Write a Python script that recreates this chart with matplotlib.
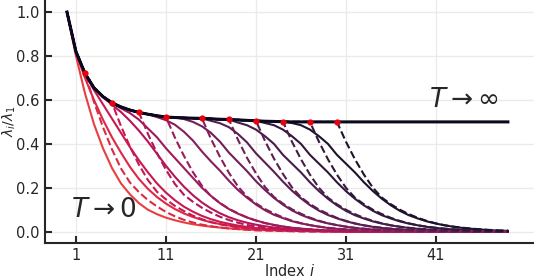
import numpy as np
import matplotlib.pyplot as plt
import seaborn as sns

# T -> infinity limit (black) and T -> 0 limit (red)
top = [1.000, 0.820, 0.721, 0.655, 0.615, 0.587, 0.568, 0.554, 0.543, 0.535,
       0.528, 0.522, 0.520, 0.518, 0.517, 0.516, 0.514, 0.512, 0.511, 0.509,
       0.507, 0.505, 0.503, 0.502, 0.501, 0.500, 0.500, 0.500, 0.500, 0.500,
       0.500, 0.500, 0.500, 0.500, 0.500, 0.500, 0.500, 0.500, 0.500, 0.500,
       0.500, 0.500, 0.500, 0.500, 0.500, 0.500, 0.500, 0.500, 0.500, 0.500]

s0 = [1.0, 0.80, 0.63, 0.49, 0.38, 0.29, 0.22, 0.17, 0.13, 0.10,
      0.08, 0.064, 0.052, 0.042, 0.034, 0.028, 0.023, 0.019, 0.015, 0.012,
      0.010, 0.008, 0.007, 0.006, 0.005, 0.004, 0.003, 0.003, 0.002, 0.002,
      0.002, 0.001, 0.001, 0.001, 0.001, 0.001, 0.001, 0.001, 0.001, 0.001,
      0.001, 0.001, 0.001, 0.001, 0.001, 0.001, 0.001, 0.001, 0.001, 0.001]

# solid curves, one per intermediate temperature
s1 = [1.0, 0.815, 0.70, 0.60, 0.51, 0.43, 0.36, 0.295, 0.24, 0.195,
      0.158, 0.128, 0.103, 0.083, 0.067, 0.054, 0.043, 0.035, 0.028, 0.022,
      0.018, 0.014, 0.011, 0.009, 0.007, 0.005, 0.004, 0.003, 0.003, 0.002,
      0.002, 0.001, 0.001, 0.001, 0.001, 0.001, 0.001, 0.001, 0.001, 0.001,
      0.001, 0.001, 0.001, 0.001, 0.001, 0.001, 0.001, 0.001, 0.001, 0.001]
s2 = [1.0, 0.82, 0.718, 0.645, 0.58, 0.515, 0.45, 0.385, 0.325, 0.27,
      0.22, 0.178, 0.143, 0.114, 0.091, 0.072, 0.057, 0.045, 0.036, 0.028,
      0.022, 0.017, 0.013, 0.010, 0.008, 0.006, 0.005, 0.004, 0.003, 0.002,
      0.002, 0.001, 0.001, 0.001, 0.001, 0.001, 0.001, 0.001, 0.001, 0.001,
      0.001, 0.001, 0.001, 0.001, 0.001, 0.001, 0.001, 0.001, 0.001, 0.001]
s3 = [1.0, 0.820, 0.721, 0.655, 0.612, 0.578, 0.545, 0.505, 0.46, 0.41,
      0.355, 0.30, 0.25, 0.205, 0.166, 0.133, 0.106, 0.084, 0.066, 0.052,
      0.041, 0.032, 0.025, 0.019, 0.015, 0.011, 0.008, 0.006, 0.005, 0.004,
      0.003, 0.002, 0.002, 0.001, 0.001, 0.001, 0.001, 0.001, 0.001, 0.001,
      0.001, 0.001, 0.001, 0.001, 0.001, 0.001, 0.001, 0.001, 0.001, 0.001]
s4 = [1.0, 0.820, 0.721, 0.655, 0.615, 0.587, 0.562, 0.54, 0.51, 0.47,
      0.43, 0.38, 0.335, 0.29, 0.245, 0.20, 0.163, 0.13, 0.103, 0.082,
      0.065, 0.051, 0.04, 0.031, 0.024, 0.018, 0.014, 0.011, 0.008, 0.006,
      0.004, 0.003, 0.002, 0.001, 0.001, 0.001, 0.001, 0.001, 0.001, 0.001,
      0.001, 0.001, 0.001, 0.001, 0.001, 0.001, 0.001, 0.001, 0.001, 0.001]
s5 = [1.0, 0.820, 0.721, 0.655, 0.615, 0.587, 0.568, 0.554, 0.543, 0.535,
      0.522, 0.508, 0.487, 0.455, 0.415, 0.365, 0.32, 0.278, 0.232, 0.19,
      0.155, 0.124, 0.098, 0.077, 0.062, 0.048, 0.038, 0.030, 0.023, 0.017,
      0.013, 0.010, 0.007, 0.005, 0.004, 0.003, 0.002, 0.002, 0.001, 0.001,
      0.001, 0.001, 0.001, 0.001, 0.001, 0.001, 0.001, 0.001, 0.001, 0.001]
s6 = [1.0, 0.820, 0.721, 0.655, 0.615, 0.587, 0.568, 0.554, 0.543, 0.535,
      0.528, 0.522, 0.520, 0.513, 0.50, 0.48, 0.45, 0.41, 0.36, 0.318,
      0.276, 0.23, 0.19, 0.154, 0.123, 0.097, 0.077, 0.061, 0.048, 0.038,
      0.030, 0.023, 0.017, 0.013, 0.010, 0.007, 0.005, 0.004, 0.003, 0.002,
      0.002, 0.001, 0.001, 0.001, 0.001, 0.001, 0.001, 0.001, 0.001, 0.001]
s7 = [1.0, 0.820, 0.721, 0.655, 0.615, 0.587, 0.568, 0.554, 0.543, 0.535,
      0.528, 0.522, 0.520, 0.518, 0.517, 0.516, 0.505, 0.494, 0.476, 0.445,
      0.407, 0.357, 0.315, 0.273, 0.228, 0.187, 0.152, 0.121, 0.096, 0.076,
      0.061, 0.048, 0.037, 0.029, 0.022, 0.017, 0.013, 0.010, 0.007, 0.005,
      0.004, 0.003, 0.002, 0.002, 0.001, 0.001, 0.001, 0.001, 0.001, 0.001]
s8 = [1.0, 0.820, 0.721, 0.655, 0.615, 0.587, 0.568, 0.554, 0.543, 0.535,
      0.528, 0.522, 0.520, 0.518, 0.517, 0.516, 0.514, 0.512, 0.511, 0.497,
      0.485, 0.465, 0.435, 0.40, 0.35, 0.31, 0.27, 0.225, 0.185, 0.15,
      0.12, 0.095, 0.075, 0.06, 0.047, 0.037, 0.029, 0.022, 0.017, 0.013,
      0.010, 0.007, 0.005, 0.004, 0.003, 0.002, 0.002, 0.001, 0.001, 0.001]
s9 = [1.0, 0.820, 0.721, 0.655, 0.615, 0.587, 0.568, 0.554, 0.543, 0.535,
      0.528, 0.522, 0.520, 0.518, 0.517, 0.516, 0.514, 0.512, 0.511, 0.509,
      0.507, 0.505, 0.495, 0.485, 0.465, 0.435, 0.40, 0.35, 0.31, 0.27,
      0.225, 0.185, 0.15, 0.12, 0.095, 0.075, 0.06, 0.047, 0.037, 0.029,
      0.022, 0.017, 0.013, 0.010, 0.007, 0.005, 0.004, 0.003, 0.002, 0.002]
s10 = [1.0, 0.820, 0.721, 0.655, 0.615, 0.587, 0.568, 0.554, 0.543, 0.535,
       0.528, 0.522, 0.520, 0.518, 0.517, 0.516, 0.514, 0.512, 0.511, 0.509,
       0.507, 0.505, 0.503, 0.502, 0.501, 0.495, 0.485, 0.465, 0.435, 0.40,
       0.35, 0.31, 0.27, 0.225, 0.185, 0.15, 0.12, 0.095, 0.075, 0.06,
       0.047, 0.037, 0.029, 0.022, 0.017, 0.013, 0.010, 0.007, 0.005, 0.004]

# dashed curves, leaving the top curve at the red dots
d2 = [1.0, 0.820, 0.721, 0.591, 0.476, 0.375, 0.288, 0.224, 0.180, 0.144,
      0.115, 0.090, 0.070, 0.054, 0.042, 0.032, 0.025, 0.019, 0.015, 0.012,
      0.009, 0.006, 0.005, 0.004, 0.003, 0.002, 0.001, 0.001, 0.001, 0.001,
      0.001, 0.001, 0.001, 0.001, 0.001, 0.001, 0.001, 0.001, 0.001, 0.001,
      0.001, 0.001, 0.001, 0.001, 0.001, 0.001, 0.001, 0.001, 0.001, 0.001]
d5 = [1.0, 0.820, 0.721, 0.655, 0.615, 0.587, 0.481, 0.387, 0.305, 0.235,
      0.182, 0.147, 0.117, 0.094, 0.073, 0.057, 0.044, 0.034, 0.026, 0.021,
      0.016, 0.012, 0.009, 0.007, 0.005, 0.004, 0.003, 0.002, 0.002, 0.001,
      0.001, 0.001, 0.001, 0.001, 0.001, 0.001, 0.001, 0.001, 0.001, 0.001,
      0.001, 0.001, 0.001, 0.001, 0.001, 0.001, 0.001, 0.001, 0.001, 0.001]
d8 = [1.0, 0.820, 0.721, 0.655, 0.615, 0.587, 0.568, 0.554, 0.543, 0.445,
      0.358, 0.282, 0.217, 0.168, 0.136, 0.109, 0.087, 0.068, 0.053, 0.041,
      0.031, 0.024, 0.019, 0.015, 0.011, 0.009, 0.007, 0.005, 0.004, 0.003,
      0.002, 0.002, 0.001, 0.001, 0.001, 0.001, 0.001, 0.001, 0.001, 0.001,
      0.001, 0.001, 0.001, 0.001, 0.001, 0.001, 0.001, 0.001, 0.001, 0.001]
d11 = [1.0, 0.820, 0.721, 0.655, 0.615, 0.587, 0.568, 0.554, 0.543, 0.535,
       0.528, 0.522, 0.428, 0.345, 0.271, 0.209, 0.162, 0.131, 0.104, 0.084,
       0.065, 0.051, 0.039, 0.030, 0.023, 0.018, 0.014, 0.011, 0.008, 0.006,
       0.005, 0.004, 0.003, 0.002, 0.002, 0.001, 0.001, 0.001, 0.001, 0.001,
       0.001, 0.001, 0.001, 0.001, 0.001, 0.001, 0.001, 0.001, 0.001, 0.001]
d15 = [1.0, 0.820, 0.721, 0.655, 0.615, 0.587, 0.568, 0.554, 0.543, 0.535,
       0.528, 0.522, 0.520, 0.518, 0.517, 0.516, 0.423, 0.341, 0.268, 0.206,
       0.160, 0.129, 0.103, 0.083, 0.065, 0.050, 0.039, 0.030, 0.023, 0.018,
       0.014, 0.011, 0.008, 0.006, 0.005, 0.004, 0.003, 0.002, 0.002, 0.001,
       0.001, 0.001, 0.001, 0.001, 0.001, 0.001, 0.001, 0.001, 0.001, 0.001]
d18 = [1.0, 0.820, 0.721, 0.655, 0.615, 0.587, 0.568, 0.554, 0.543, 0.535,
       0.528, 0.522, 0.520, 0.518, 0.517, 0.516, 0.514, 0.512, 0.511, 0.419,
       0.337, 0.266, 0.204, 0.158, 0.128, 0.102, 0.082, 0.064, 0.050, 0.038,
       0.030, 0.023, 0.018, 0.014, 0.011, 0.008, 0.006, 0.005, 0.004, 0.003,
       0.002, 0.002, 0.001, 0.001, 0.001, 0.001, 0.001, 0.001, 0.001, 0.001]
d21 = [1.0, 0.820, 0.721, 0.655, 0.615, 0.587, 0.568, 0.554, 0.543, 0.535,
       0.528, 0.522, 0.520, 0.518, 0.517, 0.516, 0.514, 0.512, 0.511, 0.509,
       0.507, 0.505, 0.414, 0.333, 0.263, 0.202, 0.157, 0.126, 0.101, 0.081,
       0.063, 0.049, 0.038, 0.029, 0.023, 0.018, 0.014, 0.011, 0.008, 0.006,
       0.005, 0.004, 0.003, 0.002, 0.002, 0.001, 0.001, 0.001, 0.001, 0.001]
d24 = [1.0, 0.820, 0.721, 0.655, 0.615, 0.587, 0.568, 0.554, 0.543, 0.535,
       0.528, 0.522, 0.520, 0.518, 0.517, 0.516, 0.514, 0.512, 0.511, 0.509,
       0.507, 0.505, 0.503, 0.502, 0.501, 0.41, 0.33, 0.26, 0.20, 0.155,
       0.125, 0.10, 0.08, 0.063, 0.049, 0.038, 0.029, 0.023, 0.018, 0.014,
       0.011, 0.008, 0.006, 0.005, 0.004, 0.003, 0.002, 0.002, 0.001, 0.001]
d27 = [1.0, 0.820, 0.721, 0.655, 0.615, 0.587, 0.568, 0.554, 0.543, 0.535,
       0.528, 0.522, 0.520, 0.518, 0.517, 0.516, 0.514, 0.512, 0.511, 0.509,
       0.507, 0.505, 0.503, 0.502, 0.501, 0.500, 0.500, 0.500, 0.41, 0.33,
       0.26, 0.20, 0.155, 0.125, 0.10, 0.08, 0.063, 0.049, 0.038, 0.029,
       0.023, 0.018, 0.014, 0.011, 0.008, 0.006, 0.005, 0.004, 0.003, 0.002]
d30 = [1.0, 0.820, 0.721, 0.655, 0.615, 0.587, 0.568, 0.554, 0.543, 0.535,
       0.528, 0.522, 0.520, 0.518, 0.517, 0.516, 0.514, 0.512, 0.511, 0.509,
       0.507, 0.505, 0.503, 0.502, 0.501, 0.500, 0.500, 0.500, 0.500, 0.500,
       0.500, 0.41, 0.33, 0.26, 0.20, 0.155, 0.125, 0.10, 0.08, 0.063,
       0.049, 0.038, 0.029, 0.023, 0.018, 0.014, 0.011, 0.008, 0.006, 0.005]

dot_idx = [2, 5, 8, 11, 15, 18, 21, 24, 27, 30]
xtick_pos = [1, 11, 21, 31, 41]

solids = [s0, s1, s2, s3, s4, s5, s6, s7, s8, s9, s10]
dashed = [d2, d5, d8, d11, d15, d18, d21, d24, d27, d30]

cmap = sns.color_palette("rocket", as_cmap=True)
cols = [cmap(v) for v in np.linspace(0.6, 0.08, len(solids))]
top_col = cmap(0.03)

plt.rcParams['font.family'] = ['DejaVu Sans']
fig = plt.figure(figsize=(5.34, 2.78), dpi=100)
ax = fig.add_axes([0.0843, 0.127, 0.9157, 0.873])

for k, ys in enumerate(solids):
    ax.plot(np.arange(len(ys)), ys, color=cols[k], lw=1.5, zorder=2)
for k, ys in enumerate(dashed):
    ax.plot(np.arange(len(ys)), ys, color=cols[k + 1], lw=1.5, ls='--', zorder=2)

ax.plot(np.arange(len(top)), top, color=top_col, lw=2.2, zorder=3)
ax.plot(dot_idx, [top[i] for i in dot_idx], 'o', color='#e8000b', ms=4.5,
        mec='none', zorder=4)

ax.text(44.1, 0.60, r'$T \rightarrow \infty$', fontsize=19, color='#262626',
        ha='center', va='center')
ax.text(4.1, 0.10, r'$T \rightarrow 0$', fontsize=19, color='#262626',
        ha='center', va='center')

ax.set_xlim(-2.44, 51.9)
ax.set_ylim(-0.05, 1.055)
ax.set_xticks(xtick_pos)
ax.set_yticks([0.0, 0.2, 0.4, 0.6, 0.8, 1.0])
ax.set_yticklabels(['0.0', '0.2', '0.4', '0.6', '0.8', '1.0'])
ax.grid(True, color='#ebebeb', lw=1.0, zorder=0)
ax.set_axisbelow(True)
for side in ['top', 'right']:
    ax.spines[side].set_visible(False)
for side in ['left', 'bottom']:
    ax.spines[side].set_color('#262626')
    ax.spines[side].set_linewidth(1.5)
ax.tick_params(direction='in', length=5, width=1.5, color='#262626',
               labelsize=10.5, labelcolor='#262626', pad=4)
ax.set_xlabel('Index $i$', fontsize=10.5, color='#262626', labelpad=0)
ax.set_ylabel(r'$\lambda_i/\lambda_1$', fontsize=10, color='#262626', labelpad=-1.5)

fig.savefig('out.png', dpi=100)
